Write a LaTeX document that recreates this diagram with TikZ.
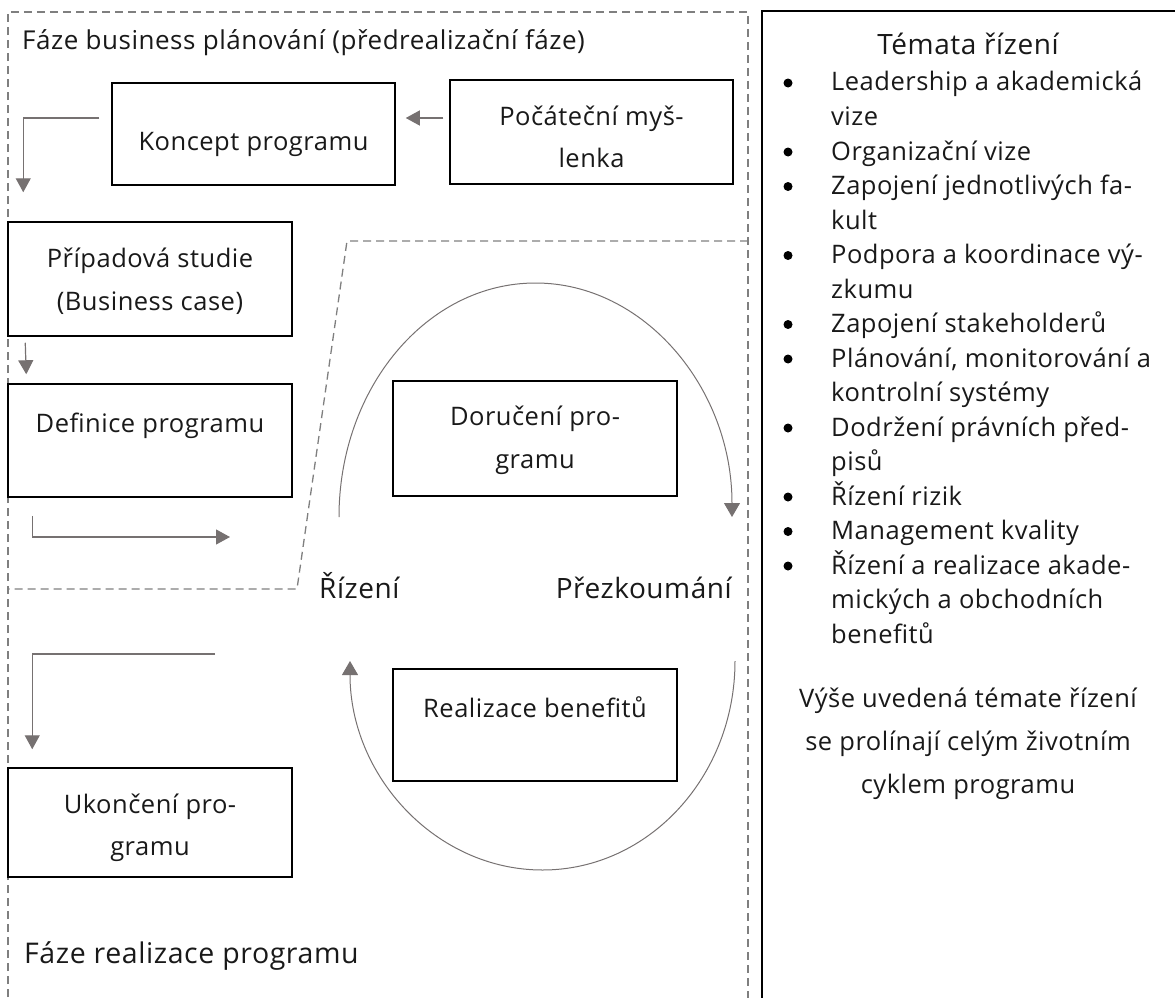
\documentclass[tikz,border=0pt]{standalone}
\usepackage{fontspec}
\setmainfont{Open Sans}[LetterSpace=2]
\usetikzlibrary{arrows.meta,calc}
\definecolor{arrgray}{HTML}{767171}
\definecolor{dashgray}{HTML}{7F7F7F}
\begin{document}
\begin{tikzpicture}[x=1pt,y=-1pt,
  box/.style={draw=black,line width=1.5pt,inner sep=0pt},
  txt/.style={inner sep=0pt,anchor=base,font=\fontsize{25.5}{30}\selectfont,text=black!90},
  bigtxt/.style={txt,font=\fontsize{28.5}{33}\selectfont},
  midtxt/.style={txt,font=\fontsize{28}{33}\selectfont},
  arr/.style={draw=arrgray,line width=1.2pt,-{Triangle[length=14pt,width=15pt]},arrgray},
  cyc/.style={draw=arrgray,line width=1pt,-{Triangle[length=14pt,width=16pt]},arrgray},
  dashline/.style={draw=dashgray,line width=1.3pt,dash pattern=on 8pt off 5pt},
  panel/.style={draw=black,line width=2pt},
  dot/.style={circle,fill=black,inner sep=0pt,minimum size=9pt}]
\useasboundingbox (0,0) rectangle (1175,998);
\clip (0,0) rectangle (1175,998);

% dashed phase frames
\draw[dashline] (8,1010) -- (8,12) -- (748,12) -- (748,1010);
\draw[dashline] (748,241) -- (347,241) -- (297,589) -- (8,589);

% right panel
\draw[panel] (762,1010) -- (762,11) -- (1190,11);

% boxes
\node[box,minimum width=283pt,minimum height=102pt] (koncept) at (253.5,134) {};
\node[box,minimum width=283pt,minimum height=104pt] (pocatecni) at (591.5,132) {};
\node[box,minimum width=284pt,minimum height=114pt] (pripadova) at (150,279) {};
\node[box,minimum width=284pt,minimum height=113pt] (definice) at (150,440.5) {};
\node[box,minimum width=284pt,minimum height=115pt] (doruceni) at (535,438.5) {};
\node[box,minimum width=284pt,minimum height=112pt] (realizace) at (535,725) {};
\node[box,minimum width=284pt,minimum height=109pt] (ukonceni) at (150,822.5) {};

% box texts
\node[txt] (konceptT) at (253.5,150) {Koncept programu};
\node[txt] (pocatecniT1) at (591.5,125) {Počáteční myš-};
\node[txt] (pocatecniT2) at (591.5,167) {lenka};
\node[txt] (pripadovaT1) at (150,267) {Případová studie};
\node[txt] (pripadovaT2) at (150,310) {(Business case)};
\node[txt] (definiceT) at (150,432) {Definice programu};
\node[txt] (doruceniT1) at (535,425) {Doručení pro-};
\node[txt] (doruceniT2) at (535,468) {gramu};
\node[txt] (realizaceT) at (535,717) {Realizace benefitů};
\node[txt] (ukonceniT1) at (150,813) {Ukončení pro-};
\node[txt] (ukonceniT2) at (150,855) {gramu};

% labels
\node[txt,font=\fontsize{26}{30}\selectfont,anchor=base west] (planHead) at (22,50) {Fáze business plánování (předrealizační fáze)};
\node[bigtxt,anchor=base west] (realHead) at (24,963) {Fáze realizace programu};
\node[midtxt,anchor=base west] (rizeni) at (319,598) {Řízení};
\node[midtxt,anchor=base east] (prezk) at (732,598) {Přezkoumání};

% connectors
\draw[arr] ($(pocatecni.west)+(-6,-14)$) -- ($(koncept.east)+(10,-16)$);
\draw[arr] ($(koncept.west)+(-12,-16)$) -| ($(pripadova.north west)+(16,-29)$);
\draw[arr] ($(pripadova.south west)+(18,6)$) -- ($(definice.north west)+(19,-9)$);
\coordinate (toCycle) at (230,537);
\draw[arr] ($(definice.south west)+(25,18)$) |- (toCycle);
\coordinate (fromCycle) at (215,654);
\draw[arr] (fromCycle) -| ($(ukonceni.north west)+(25,-18)$);

% cycle arcs
\coordinate (upStart) at (339,517);
\draw[cyc] (upStart) arc[start angle=180,end angle=0,x radius=196.5pt,y radius=234pt];
\coordinate (lowStart) at (735,661);
\draw[cyc] (lowStart) arc[start angle=0,end angle=-180,x radius=192.5pt,y radius=209pt];

% right panel texts
\node[midtxt] (temata) at (968,55) {Témata řízení};
\foreach \k/\t in {0/{Leadership a akademická},1/{vize},2/{Organizační vize},3/{Zapojení jednotlivých fa-},4/{kult},5/{Podpora a koordinace vý-},6/{zkumu},7/{Zapojení stakeholderů},8/{Plánování, monitorování a},9/{kontrolní systémy},10/{Dodržení právních před-},11/{pisů},12/{Řízení rizik},13/{Management kvality},14/{Řízení a realizace akade-},15/{mických a obchodních},16/{benefitů}}
  \node[txt,anchor=base west] (li\k) at (831,{91+34.5*\k}) {\t};
\foreach \k in {0,2,3,5,7,8,10,12,13,14}
  \node[dot] (bu\k) at (788,{83+34.5*\k}) {};
\node[txt] (note1) at (968,707) {Výše uvedená témate řízení};
\node[txt] (note2) at (968,750) {se prolínají celým životním};
\node[txt] (note3) at (968,793) {cyklem programu};
\end{tikzpicture}
\end{document}
